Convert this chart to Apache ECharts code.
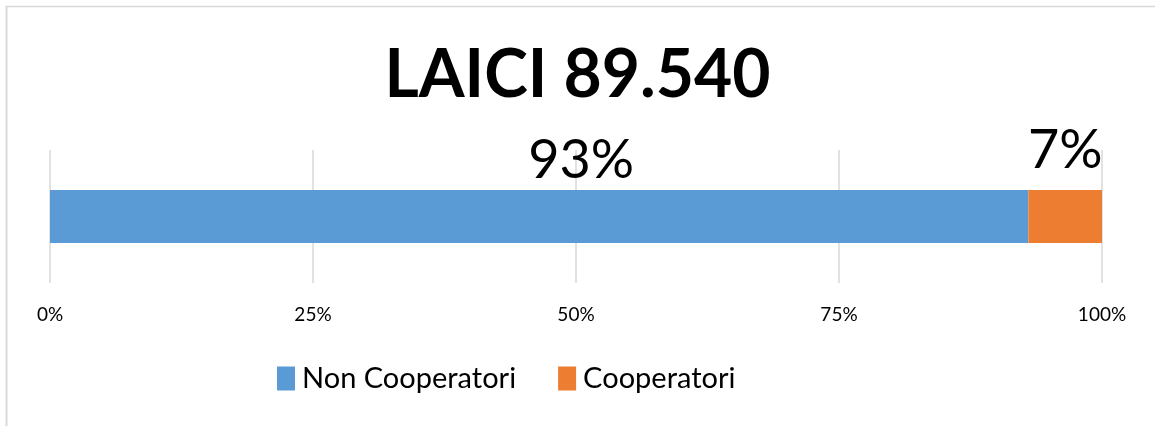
<!DOCTYPE html>
<html>
<head>
<meta charset="utf-8">
<script src="https://cdn.jsdelivr.net/npm/echarts@6/dist/echarts.min.js"></script>
<style>
  html, body { margin: 0; padding: 0; background: #ffffff; }
  #chart { width: 1155px; height: 426px; }
</style>
</head>
<body>
<div id="chart"></div>
<script>
// Share of members by type (percent)
const categories = ['LAICI'];
const seriesNames = ['Non Cooperatori', 'Cooperatori'];
const nonCooperatori = [93];
const cooperatori = [7];
const tickValues = [0, 25, 50, 75, 100];

const FONT = 'Lato, "Open Sans", sans-serif';
const chart = echarts.init(document.getElementById('chart'));

chart.setOption({
  backgroundColor: '#ffffff',
  animation: false,
  title: {
    text: 'LAICI 89.540',
    left: 'center',
    top: 38,
    textStyle: { fontFamily: FONT, fontWeight: 'bold', fontSize: 66, color: '#000000' }
  },
  graphic: [
    { type: 'line', shape: { x1: 6.5, y1: 6, x2: 6.5, y2: 426 }, style: { stroke: '#d9d9d9', lineWidth: 2 } },
    { type: 'line', shape: { x1: 6, y1: 6.5, x2: 1155, y2: 6.5 }, style: { stroke: '#d9d9d9', lineWidth: 1.5 } }
  ],
  grid: { left: 50, right: 53, top: 150, bottom: 143 },
  xAxis: {
    type: 'value',
    min: 0,
    max: 100,
    interval: 25,
    axisLine: { show: false },
    axisTick: { show: false },
    splitLine: { show: true, lineStyle: { color: '#d9d9d9', width: 1.5 } },
    axisLabel: {
      margin: 22,
      fontFamily: FONT,
      fontSize: 19,
      color: '#000000',
      formatter: v => tickValues.includes(v) ? v + '%' : ''
    }
  },
  yAxis: {
    type: 'category',
    data: categories,
    show: false
  },
  legend: {
    bottom: 28,
    left: 272,
    itemWidth: 18,
    itemHeight: 24,
    itemGap: 42,
    icon: 'rect',
    textStyle: { fontFamily: FONT, fontSize: 29, color: '#000000', padding: [0, 0, 0, 2] },
    data: seriesNames
  },
  series: [
    {
      name: seriesNames[0],
      type: 'bar',
      stack: 'total',
      barWidth: 53,
      data: nonCooperatori,
      itemStyle: { color: '#5B9BD5' },
      label: {
        show: true,
        position: 'top',
        distance: 2,
        offset: [42, 0],
        formatter: p => p.value + '%',
        fontFamily: FONT,
        fontSize: 54,
        color: '#000000'
      }
    },
    {
      name: seriesNames[1],
      type: 'bar',
      stack: 'total',
      barWidth: 53,
      data: cooperatori,
      itemStyle: { color: '#ED7D31' },
      label: {
        show: true,
        position: 'top',
        distance: 12,
        formatter: p => p.value + '%',
        fontFamily: FONT,
        fontSize: 54,
        color: '#000000'
      }
    }
  ]
});
</script>
</body>
</html>
